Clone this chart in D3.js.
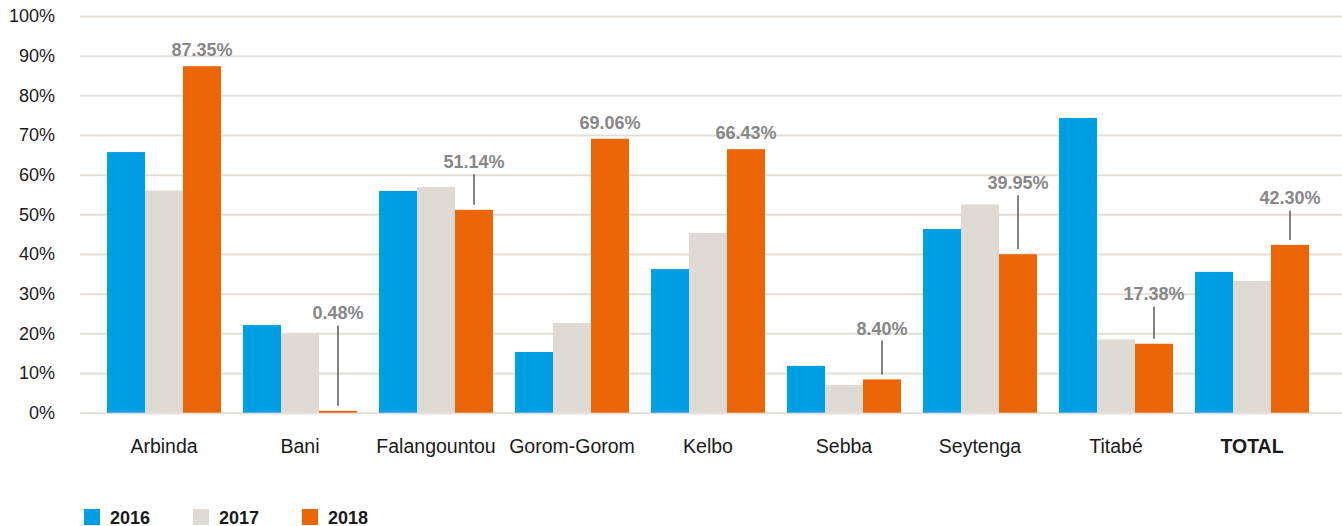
<!DOCTYPE html>
<html>
<head>
<meta charset="utf-8">
<script src="https://cdn.jsdelivr.net/npm/d3@7"></script>
<style>
  body { margin: 0; background: #fff; }
  svg text { font-family: "Liberation Sans", Arial, sans-serif; }
</style>
</head>
<body>
<svg id="chart" width="1342" height="526"></svg>
<script>
/*
Data
*/
var communes = ["Arbinda", "Bani", "Falangountou", "Gorom-Gorom", "Kelbo", "Sebba", "Seytenga", "Titabé", "TOTAL"];
var years = ["2016", "2017", "2018"];
var v2016 = [65.7, 22.1, 55.9, 15.3, 36.2, 11.8, 46.3, 74.3, 35.5];
var v2017 = [56.0, 20.0, 56.9, 22.6, 45.3, 7.0, 52.5, 18.5, 33.2];
var v2018 = [87.35, 0.48, 51.14, 69.06, 66.43, 8.40, 39.95, 17.38, 42.30];
var labels2018 = ["87.35%", "0.48%", "51.14%", "69.06%", "66.43%", "8.40%", "39.95%", "17.38%", "42.30%"];
// level (in %) where a label sits when it hangs on a leader line, null = right above the bar
var labelLevel = [null, 23.5, 61.6, null, null, 19.7, 56.3, 28.3, 52.5];
var yTicks = [0, 10, 20, 30, 40, 50, 60, 70, 80, 90, 100];
var colors = ["#009fe3", "#e0dad5", "#ec6608"];

/*
Scales
*/
var svg = d3.select("#chart");
var y = d3.scaleLinear().domain([0, 100]).range([412.7, 16]);
var x0 = d3.scaleBand().domain(communes).range([96, 1320])
           .paddingInner(22 / 136).paddingOuter(11 / 136);
var x1 = d3.scaleBand().domain(years).range([0, x0.bandwidth()]);
var color = d3.scaleOrdinal().domain(years).range(colors);

var rows = communes.map(function(c, i){
  return {name: c, values: [v2016[i], v2017[i], v2018[i]], label: labels2018[i], level: labelLevel[i]};
});

/*
Grid + y axis
*/
var yAxis = d3.axisLeft(y).tickValues(yTicks).tickSize(-(1342 - 80)).tickPadding(25)
              .tickFormat(function(d){ return d + "%"; });
var gy = svg.append("g").attr("transform", "translate(80,0)").call(yAxis);
gy.select(".domain").remove();
gy.selectAll(".tick line").attr("stroke", "#e3ded8").attr("stroke-width", 2);
gy.selectAll(".tick text").attr("font-size", 18).attr("fill", "#1a1a1a")
  .attr("font-family", "'Liberation Sans', Arial, sans-serif");

/*
Bars
*/
var group = svg.selectAll("g.group")
               .data(rows)
               .enter()
               .append("g")
               .attr("class", "group")
               .attr("transform", function(d){ return "translate(" + x0(d.name) + ",0)"; });

group.selectAll("rect")
     .data(function(d){ return d.values.map(function(v, j){ return {year: years[j], value: v}; }); })
     .enter()
     .append("rect")
     .attr("x", function(d){ return x1(d.year); })
     .attr("width", x1.bandwidth())
     .attr("y", function(d){ return y(d.value); })
     .attr("height", function(d){ return y(0) - y(d.value); })
     .attr("fill", function(d){ return color(d.year); });

/*
2018 value labels with leader lines
*/
var cx = x1("2018") + x1.bandwidth() / 2;
group.each(function(d){
  var g = d3.select(this);
  var top = y(d.values[2]);
  var base = d.level === null ? top - 10 : y(d.level);
  if (d.level !== null){
    g.append("line")
     .attr("x1", cx).attr("x2", cx)
     .attr("y1", base + 6).attr("y2", top - 5)
     .attr("stroke", "#5a5a5a")
     .attr("stroke-width", 1.5);
  }
  g.append("text")
   .attr("x", cx)
   .attr("y", base)
   .attr("text-anchor", "middle")
   .attr("font-size", 18)
   .attr("font-weight", "bold")
   .attr("fill", "#878787")
   .text(d.label);
});

/*
Category labels
*/
svg.append("g").selectAll("text")
   .data(communes)
   .enter()
   .append("text")
   .attr("x", function(d){ return x0(d) + x0.bandwidth() / 2; })
   .attr("y", 452.5)
   .attr("text-anchor", "middle")
   .attr("font-size", 19.5)
   .attr("font-weight", function(d){ return d === "TOTAL" ? "bold" : "normal"; })
   .attr("fill", "#1a1a1a")
   .text(function(d){ return d; });

/*
Legend
*/
var legendX = [84, 193, 302];
var legend = svg.append("g").selectAll("g")
                .data(years)
                .enter()
                .append("g")
                .attr("transform", function(d, i){ return "translate(" + legendX[i] + ",509)"; });
legend.append("rect").attr("width", 16).attr("height", 16)
      .attr("fill", function(d){ return color(d); });
legend.append("text").attr("x", 26).attr("y", 14.5)
      .attr("font-size", 18).attr("font-weight", "bold").attr("fill", "#1a1a1a")
      .text(function(d){ return d; });
</script>
</body>
</html>
